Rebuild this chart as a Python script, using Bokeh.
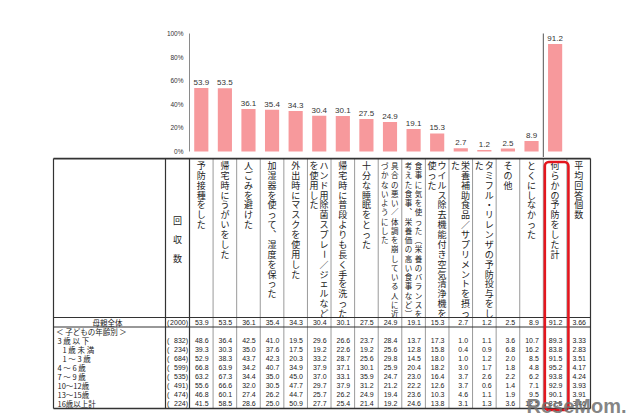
import math
from bokeh.plotting import figure
from bokeh.models import Range1d, FixedTicker, PrintfTickFormatter, ColumnDataSource
from bokeh.layouts import column
from bokeh.embed import file_html
from bokeh.resources import INLINE
from bokeh.core.properties import value

# ---------------- data ----------------
header_labels = [
    ["予防接種をした"],
    ["帰宅時にうがいをした"],
    ["人ごみを避けた"],
    ["加湿器を使って、湿度を保った"],
    ["外出時にマスクを使用した"],
    ["ハンド用除菌スプレー／ジェルなど", "を使用した"],
    ["帰宅時に普段よりも長く手を洗った"],
    ["十分な睡眠をとった"],
    ["具合の悪い／体調を崩している人に近", "づかないようにした"],
    ["食事に気を使った（栄養のバランスを", "考えた食事、栄養価の高い食事など）"],
    ["ウイルス除去機能付き空気清浄機を", "使った"],
    ["栄養補助食品／サプリメントを摂っ", "た"],
    ["タミフル・リレンザの予防投与をし", "た"],
    ["その他"],
    ["とくにしなかった"],
    ["何らかの予防をした計"],
    ["平均回答個数"],
]
n_header = "回収数"

total_label = "母親全体"
total_n = 2000
total_pct = [53.9, 53.5, 36.1, 35.4, 34.3, 30.4, 30.1, 27.5, 24.9, 19.1,
             15.3, 2.7, 1.2, 2.5, 8.9, 91.2]
total_avg = 3.66

group_label = "＜ 子どもの年齢別 ＞"
row_labels = ["3 歳 以 下", "1 歳 未 満", "1 ～ 3 歳", "4 ～ 6 歳", "7 ～ 9 歳",
              "10～12歳", "13～15歳", "16歳以上計"]
row_indent = [0, 1, 1, 0, 0, 0, 0, 0]
row_n = [832, 234, 684, 599, 535, 491, 474, 224]
row_under3 = [48.6, 36.4, 42.5, 41.0, 19.5, 29.6, 26.6, 23.7, 28.4, 13.7, 17.3, 1.0, 1.1, 3.6, 10.7, 89.3]
row_under1 = [39.3, 30.3, 35.0, 37.6, 17.5, 19.2, 22.6, 19.2, 25.6, 12.8, 15.8, 0.4, 0.9, 6.8, 16.2, 83.8]
row_1to3 = [52.9, 38.3, 43.7, 42.3, 20.3, 33.2, 28.7, 25.6, 29.8, 14.5, 18.0, 1.0, 1.2, 2.0, 8.5, 91.5]
row_4to6 = [66.8, 63.9, 34.2, 40.7, 34.9, 37.9, 37.1, 30.1, 25.9, 20.4, 18.2, 3.0, 1.7, 1.8, 4.8, 95.2]
row_7to9 = [63.2, 67.3, 34.4, 35.0, 45.0, 37.0, 33.1, 35.9, 24.7, 23.0, 16.4, 3.7, 2.6, 2.2, 6.2, 93.8]
row_10to12 = [55.6, 66.6, 32.0, 30.5, 47.7, 29.7, 37.9, 31.2, 21.2, 22.2, 12.6, 3.7, 0.6, 1.4, 7.1, 92.9]
row_13to15 = [46.8, 60.1, 27.4, 26.2, 44.7, 25.7, 26.2, 24.9, 19.4, 23.6, 10.3, 4.6, 1.1, 1.9, 9.5, 90.1]
row_16plus = [41.5, 58.5, 28.6, 25.0, 50.9, 27.7, 25.4, 21.4, 19.2, 24.6, 13.8, 3.1, 1.3, 3.6, 12.5, 87.5]
row_avg = [3.33, 2.83, 3.51, 4.17, 4.24, 3.93, 3.91, 3.46]
row_values = [row_under3, row_under1, row_1to3, row_4to6, row_7to9, row_10to12, row_13to15, row_16plus]

y_ticks = [0, 20, 40, 60, 80, 100]

# ---------------- style / layout ----------------
BAR = "#f7999c"
RED = "#e3161e"
DARK = "#333333"
GRAY = "#9a9a9a"
JP = "Noto Sans CJK JP"
NUM = "Liberation Sans"

W, H = 640, 420
X_TAB = 53       # table left
X_LAB = 165      # label column right
X_N = 189        # n column right / first item column left
X_R = 590        # table right
NCOL = len(header_labels)
CW = (X_R - X_N) / NCOL
TOP_H = 157
Y_TOP, Y_HDR, Y_TOT, Y_BOT = 158, 317, 326.5, 408
Y_TOTROW = 322
Y_GROUP = 331
Y_ROW0, ROW_STEP = 340.2, 8.9

# ---------------- bar chart ----------------
px_per = 1.18
frame_top = 28
y_hi = (151 - frame_top) / px_per
y_lo = -(TOP_H - 151) / px_per

p1 = figure(width=W, height=TOP_H, x_range=Range1d(0, NCOL), y_range=Range1d(y_lo, y_hi),
            x_axis_type=None, output_backend="svg", toolbar_location=None,
            min_border_left=X_N, min_border_right=W - X_R, min_border_top=frame_top,
            min_border_bottom=0)
p1.frame_align = False
p1.outline_line_color = None
p1.grid.visible = False
p1.background_fill_color = "white"
p1.border_fill_color = "white"
ax = p1.yaxis[0]
ax.ticker = FixedTicker(ticks=y_ticks)
ax.formatter = PrintfTickFormatter(format="%d%%")
ax.bounds = (0, 100)
ax.axis_line_color = "#8a8a8a"
ax.major_tick_in = 0
ax.major_tick_out = 0
ax.minor_tick_line_color = None
ax.major_label_text_font_size = "6.5px"
ax.major_label_text_font = NUM
ax.major_label_text_color = "#333333"
ax.major_label_standoff = 6

bx = [i + 0.5 for i in range(len(total_pct))]
bsrc = ColumnDataSource(dict(x=bx, top=total_pct, lab=[f"{v:.1f}" for v in total_pct]))
p1.vbar(x="x", top="top", width=0.6, bottom=0, source=bsrc, fill_color=BAR, line_color=None)
p1.text(x="x", y="top", text="lab", source=bsrc, text_align="center", text_baseline="bottom",
        y_offset=-3, text_font_size="8px", text_font=value(NUM), text_color="#333333")
p1.segment(x0=[len(total_pct) - 1], y0=[y_lo - 5], x1=[len(total_pct) - 1], y1=[100],
           line_color="#555555", line_width=1)

# ---------------- table ----------------
p2 = figure(width=W, height=H - TOP_H, x_range=Range1d(0, W), y_range=Range1d(H, TOP_H),
            x_axis_type=None, y_axis_type=None, output_backend="svg", toolbar_location=None,
            min_border=0)
p2.frame_align = False
p2.outline_line_color = None
p2.grid.visible = False
p2.background_fill_color = "white"
p2.border_fill_color = "white"

def col_left(i):
    return X_N + i * CW

# grid lines
gx = [col_left(i) for i in range(1, NCOL)]
p2.segment(x0=gx, y0=[Y_TOP] * len(gx), x1=gx, y1=[Y_BOT] * len(gx), line_color=GRAY, line_width=1)
dx = [X_TAB, X_LAB, X_N, X_R]
p2.segment(x0=dx, y0=[Y_TOP] * 4, x1=dx, y1=[Y_BOT] * 4, line_color=DARK, line_width=1.2)
hy_lines = [Y_TOP, Y_HDR, Y_TOT, Y_BOT]
p2.segment(x0=[X_TAB] * 4, y0=hy_lines, x1=[X_R] * 4, y1=hy_lines, line_color=DARK,
           line_width=[1.8, 1.2, 1.2, 1.4])

# vertical header text
vert_map = {"、": "︑", "（": "︵", "）": "︶", "。": "︒"}
big = dict(x=[], y=[], t=[], a=[])
small = dict(x=[], y=[], t=[], a=[])
for i, lines in enumerate(header_labels):
    cx = col_left(i) + CW / 2
    is_small = i in (8, 9)
    step = 9.25 if is_small else 9.87
    tgt = small if is_small else big
    nl = len(lines)
    for k, line in enumerate(lines):
        lx = cx if nl == 1 else (cx + 4.8 if k == 0 else cx - 5.2)
        for m, ch in enumerate(line):
            tgt["x"].append(lx)
            tgt["y"].append(165 + m * step)
            tgt["t"].append(vert_map.get(ch, ch))
            tgt["a"].append(-math.pi / 2 if ch in "ー－" else 0)
p2.text(x="x", y="y", text="t", angle="a", source=ColumnDataSource(big), text_align="center",
        text_baseline="middle", text_font_size="9px", text_font=value(JP), text_color="#222222")
p2.text(x="x", y="y", text="t", angle="a", source=ColumnDataSource(small), text_align="center",
        text_baseline="middle", text_font_size="7.5px", text_font=value(JP), text_color="#222222")

# n column header
nx = (X_LAB + X_N) / 2
p2.text(x=[nx] * len(n_header), y=[220, 239, 258], text=list(n_header), text_align="center",
        text_baseline="middle", text_font_size="9px", text_font=value(JP), text_color="#222222")

# row labels
p2.text(x=[(X_TAB + X_LAB) / 2 - 2], y=[Y_TOTROW], text=[total_label], text_align="center",
        text_baseline="middle", text_font_size="7.5px", text_font=value(JP), text_color="#222222")
p2.text(x=[55.5], y=[Y_GROUP], text=[group_label], text_align="left", text_baseline="middle",
        text_font_size="7.5px", text_font=value(JP), text_color="#222222")
ry = [Y_ROW0 + r * ROW_STEP for r in range(len(row_labels))]
rx = [57 + 5 * ind for ind in row_indent]
p2.text(x=rx, y=ry, text=row_labels, text_align="left", text_baseline="middle",
        text_font_size="7.5px", text_font=value(JP), text_color="#222222")

# n values
all_y = [Y_TOTROW] + ry
all_n = [total_n] + row_n
p2.text(x=[X_LAB + 1.5] * len(all_y), y=all_y, text=["("] * len(all_y), text_align="left",
        text_baseline="middle", text_font_size="7px", text_font=value(NUM), text_color="#222222")
p2.text(x=[X_N - 1.5] * len(all_y), y=all_y, text=[f"{n})" for n in all_n], text_align="right",
        text_baseline="middle", text_font_size="7px", text_font=value(NUM), text_color="#222222")

# numeric cells
cx_, cy_, ct_ = [], [], []
all_vals = [total_pct] + row_values
all_avg = [total_avg] + row_avg
for r, (vals, av) in enumerate(zip(all_vals, all_avg)):
    for j, v in enumerate(vals):
        cx_.append(col_left(j + 1) - 4.5)
        cy_.append(all_y[r])
        ct_.append(f"{v:.1f}")
    cx_.append(col_left(NCOL) - 4.5)
    cy_.append(all_y[r])
    ct_.append(f"{av:.2f}")
p2.text(x=cx_, y=cy_, text=ct_, text_align="right", text_baseline="middle",
        text_font_size="7px", text_font=value(NUM), text_color="#222222")

# highlight box around the total column
hl = len(total_pct) - 1
p2.quad(left=[col_left(hl) + 1.5], right=[col_left(hl + 1) + 1.5], top=[161.5], bottom=[409.5],
        fill_color=None, line_color=RED, line_width=2.6, border_radius=4)

# watermark
p2.text(x=[526], y=[405], text=["ReseMom."], text_align="left", text_baseline="alphabetic",
        text_font_size="20px", text_font=value("Liberation Sans"), text_font_style="bold",
        text_color="#6f6f6f", text_alpha=0.85)

layout = column(p1, p2, spacing=0)
open("out.html", "w").write(file_html(layout, INLINE))
